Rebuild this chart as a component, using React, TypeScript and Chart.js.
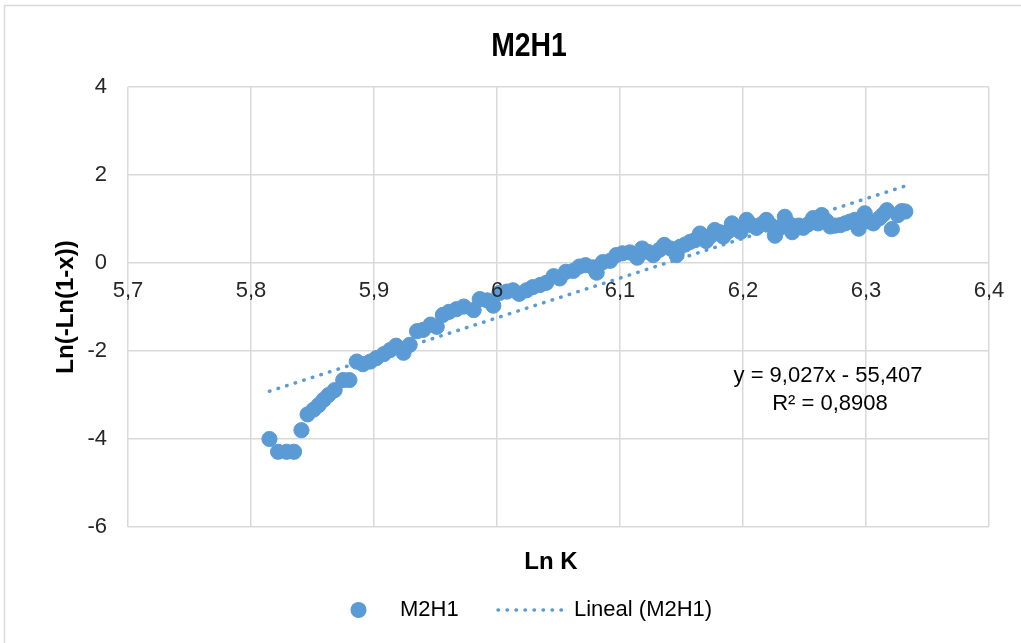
import React, { useEffect, useRef } from 'react';
import { Chart, registerables } from 'chart.js';

Chart.register(...registerables);

// ---- Data ----
const chartTitle = 'M2H1';
const xTitle = 'Ln K';
const yTitle = 'Ln(-Ln(1-x))';
const seriesName = 'M2H1';
const trendName = 'Lineal (M2H1)';
const equationLines = ['y = 9,027x - 55,407', 'R² = 0,8908'];

const lnK = [
  5.815, 5.822, 5.829, 5.835, 5.841, 5.846, 5.851, 5.855, 5.859, 5.863,
  5.868, 5.875, 5.88, 5.886, 5.891, 5.897, 5.902, 5.908, 5.913, 5.918,
  5.924, 5.929, 5.935, 5.94, 5.946, 5.951, 5.956, 5.961, 5.967, 5.973,
  5.981, 5.986, 5.992, 5.997, 6.002, 6.008, 6.013, 6.018, 6.024, 6.029,
  6.035, 6.04, 6.046, 6.051, 6.056, 6.062, 6.067, 6.072, 6.078, 6.081,
  6.086, 6.092, 6.097, 6.102, 6.108, 6.114, 6.118, 6.123, 6.127, 6.132,
  6.136, 6.141, 6.146, 6.149, 6.153, 6.157, 6.161, 6.165, 6.17, 6.174,
  6.177, 6.181, 6.184, 6.188, 6.191, 6.195, 6.198, 6.203, 6.207, 6.211,
  6.215, 6.219, 6.223, 6.226, 6.23, 6.234, 6.237, 6.24, 6.245, 6.249,
  6.253, 6.257, 6.261, 6.264, 6.268, 6.271, 6.275, 6.279, 6.283, 6.287,
  6.291, 6.294, 6.299, 6.302, 6.306, 6.311, 6.314, 6.317, 6.321, 6.326,
  6.329, 6.332,
];
const lnLn = [
  -4.0, -4.29, -4.29, -4.29, -3.8, -3.44, -3.33, -3.23, -3.11, -3.0,
  -2.89, -2.66, -2.66, -2.24, -2.3, -2.24, -2.16, -2.07, -1.98, -1.88,
  -2.04, -1.86, -1.55, -1.52, -1.4, -1.45, -1.18, -1.11, -1.05, -0.99,
  -1.07, -0.82, -0.85, -0.97, -0.68, -0.65, -0.62, -0.7, -0.62, -0.55,
  -0.5, -0.45, -0.3, -0.35, -0.2, -0.18, -0.08, -0.05, -0.1, -0.22,
  0.02, 0.05, 0.18, 0.22, 0.24, 0.12, 0.33, 0.25, 0.18, 0.3,
  0.41, 0.33, 0.18, 0.37, 0.42, 0.48, 0.52, 0.67, 0.5, 0.62,
  0.75, 0.7, 0.6, 0.72, 0.9, 0.8, 0.71, 0.98, 0.86, 0.8,
  0.88, 0.98, 0.85, 0.62, 0.8, 1.05, 0.9, 0.7, 0.85, 0.8,
  0.88, 1.02, 0.9, 1.09, 0.95, 0.83, 0.85, 0.86, 0.9, 0.94,
  0.98, 0.78, 1.13, 0.95, 0.9, 1.02, 1.1, 1.2, 0.77, 1.09,
  1.18, 1.17,
];

const trendX = [5.815, 6.332];
const trendY = [-2.915, 1.752];

const xMin = 5.7;
const xMax = 6.4;
const xStep = 0.1;
const yMin = -6;
const yMax = 4;
const yStep = 2;

// ---- Styles ----
const BLUE = '#5B9BD5';
const GRID = '#D9D9D9';
const TEXT = '#262626';
const FONT = '"Liberation Sans", Arial, sans-serif';

const fmtComma = (v: number) => String(Number(Number(v).toFixed(1))).replace('.', ',');

const decorPlugin = {
  id: 'decor',
  beforeDraw(chart: any) {
    const ctx = chart.ctx;
    ctx.save();
    ctx.fillStyle = '#ffffff';
    ctx.fillRect(0, 0, chart.width, chart.height);
    ctx.restore();
  },
  afterDraw(chart: any) {
    const ctx = chart.ctx;
    ctx.save();
    // outer border
    ctx.strokeStyle = GRID;
    ctx.lineWidth = 1.5;
    ctx.beginPath();
    ctx.moveTo(4.5, chart.height + 2);
    ctx.lineTo(4.5, 5.5);
    ctx.lineTo(chart.width + 2, 5.5);
    ctx.stroke();

    // title (narrow bold)
    ctx.fillStyle = '#000000';
    ctx.textAlign = 'center';
    ctx.textBaseline = 'middle';
    ctx.save();
    ctx.translate(529, 47);
    ctx.scale(0.86, 1);
    ctx.font = `bold 33px ${FONT}`;
    ctx.fillText(chartTitle, 0, 0);
    ctx.restore();

    // x axis title
    ctx.font = `bold 24px ${FONT}`;
    ctx.fillText(xTitle, 551, 562);

    // equation
    ctx.fillStyle = '#000000';
    ctx.font = `22px ${FONT}`;
    ctx.fillText(equationLines[0], 828, 376);
    ctx.fillText(equationLines[1], 830, 404);

    // legend
    const ly = 610;
    ctx.fillStyle = BLUE;
    ctx.beginPath();
    ctx.arc(358.5, ly, 8, 0, Math.PI * 2);
    ctx.fill();
    ctx.fillStyle = '#000000';
    ctx.textAlign = 'left';
    ctx.font = `22px ${FONT}`;
    ctx.fillText(seriesName, 400, ly);
    ctx.strokeStyle = BLUE;
    ctx.lineWidth = 3.5;
    ctx.lineCap = 'round';
    ctx.setLineDash([0.5, 8.5]);
    ctx.beginPath();
    ctx.moveTo(498, ly);
    ctx.lineTo(562, ly);
    ctx.stroke();
    ctx.setLineDash([]);
    ctx.fillText(trendName, 574, ly);
    ctx.restore();
  },
};

export default function App() {
  const ref = useRef<HTMLCanvasElement | null>(null);

  useEffect(() => {
    if (!ref.current) return;
    const points = lnK.map((x, i) => ({ x, y: lnLn[i] }));
    const trend = trendX.map((x, i) => ({ x, y: trendY[i] }));
    const chart = new Chart(ref.current, {
      type: 'scatter',
      data: {
        datasets: [
          {
            label: trendName,
            type: 'line',
            data: trend,
            xAxisID: 'x',
            yAxisID: 'y',
            borderColor: BLUE,
            borderWidth: 3.5,
            borderDash: [0.5, 8.5],
            borderCapStyle: 'round',
            pointRadius: 0,
            fill: false,
            order: 0,
          },
          {
            label: seriesName,
            data: points,
            xAxisID: 'x',
            yAxisID: 'y',
            backgroundColor: BLUE,
            borderColor: BLUE,
            borderWidth: 1,
            pointRadius: 7.6,
            order: 1,
          },
        ],
      },
      options: {
        responsive: false,
        animation: false,
        devicePixelRatio: 1,
        layout: { padding: { left: 0, right: 32, top: 87, bottom: 116 } },
        plugins: {
          legend: { display: false },
          title: { display: false },
          tooltip: { enabled: false },
        },
        scales: {
          x: {
            type: 'linear',
            position: { y: 0 } as any,
            min: xMin,
            max: xMax,
            afterFit: (s: any) => {
              s.height = 0;
            },
            ticks: {
              stepSize: xStep,
              color: TEXT,
              padding: 15,
              z: 1,
              font: { family: FONT, size: 22 },
              callback: (v: any) => fmtComma(v),
              maxRotation: 0,
              autoSkip: false,
            },
            grid: { color: GRID, lineWidth: 1.5, drawTicks: false, z: -1 },
            border: { display: false },
          },
          y: {
            type: 'linear',
            position: 'left',
            min: yMin,
            max: yMax,
            afterFit: (s: any) => {
              s.width = 128;
            },
            ticks: {
              stepSize: yStep,
              color: TEXT,
              padding: 21,
              font: { family: FONT, size: 22 },
              callback: (v: any) => String(v),
            },
            grid: { color: GRID, lineWidth: 1.5, drawTicks: false },
            border: { display: false },
            title: {
              display: true,
              text: yTitle,
              color: '#000000',
              font: { family: FONT, size: 24, weight: 'bold' },
              padding: { top: 52, bottom: 0 },
            },
          },
        },
      } as any,
      plugins: [decorPlugin],
    });
    return () => chart.destroy();
  }, []);

  return (
    <div style={{ position: 'absolute', left: 0, top: 0, width: 1021, height: 643 }}>
      <canvas ref={ref} width={1021} height={643} style={{ width: 1021, height: 643, display: 'block' }} />
    </div>
  );
}
